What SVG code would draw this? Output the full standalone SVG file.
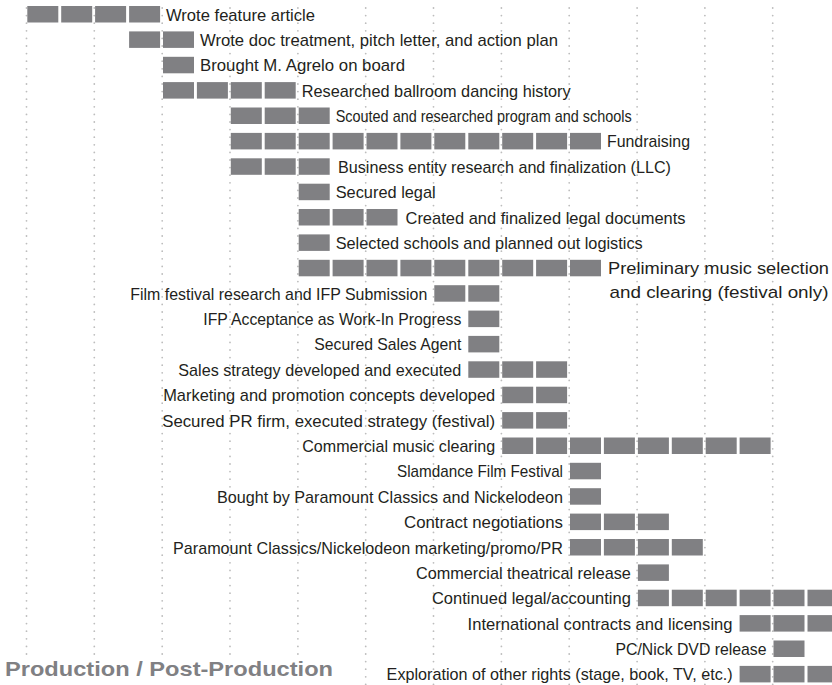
<svg xmlns="http://www.w3.org/2000/svg" width="832" height="685" viewBox="0 0 832 685">
<style>
.seg{fill:#808083}
.grid{stroke:#bdbdbd;stroke-width:1.8;stroke-linecap:round;stroke-dasharray:0 7.6;fill:none}
.t{font-family:"Liberation Sans",Arial,sans-serif;font-size:17px;fill:#231f20}
.r{text-anchor:end}
.title{font-family:"Liberation Sans",Arial,sans-serif;font-size:21px;font-weight:bold;fill:#808083}
</style>
<defs><rect id="s" class="seg" width="31" height="16.5"/></defs>
<rect width="832" height="685" fill="#fff"/>
<g id="gridlines">
<line class="grid" x1="26.5" y1="8" x2="26.5" y2="685"/>
<line class="grid" x1="94.3" y1="8" x2="94.3" y2="685"/>
<line class="grid" x1="162.2" y1="8" x2="162.2" y2="685"/>
<line class="grid" x1="230" y1="8" x2="230" y2="685"/>
<line class="grid" x1="297.9" y1="8" x2="297.9" y2="685"/>
<line class="grid" x1="365.7" y1="8" x2="365.7" y2="685"/>
<line class="grid" x1="433.5" y1="8" x2="433.5" y2="685"/>
<line class="grid" x1="501.4" y1="8" x2="501.4" y2="685"/>
<line class="grid" x1="569.2" y1="8" x2="569.2" y2="685"/>
<line class="grid" x1="637.1" y1="8" x2="637.1" y2="685"/>
<line class="grid" x1="704.9" y1="8" x2="704.9" y2="685"/>
<line class="grid" x1="772.7" y1="8" x2="772.7" y2="685"/>
</g>
<g id="r1"><use href="#s" x="27.3" y="6"/><use href="#s" x="61.2" y="6"/><use href="#s" x="95.1" y="6"/><use href="#s" x="129.1" y="6"/><text class="t" x="166" y="20.5" textLength="149" lengthAdjust="spacingAndGlyphs">Wrote feature article</text></g>
<g id="r2"><use href="#s" x="129.1" y="31.4"/><use href="#s" x="163" y="31.4"/><text class="t" x="200" y="45.9" textLength="358" lengthAdjust="spacingAndGlyphs">Wrote doc treatment, pitch letter, and action plan</text></g>
<g id="r3"><use href="#s" x="163" y="56.8"/><text class="t" x="200" y="71.3" textLength="205" lengthAdjust="spacingAndGlyphs">Brought M. Agrelo on board</text></g>
<g id="r4"><use href="#s" x="163" y="82.1"/><use href="#s" x="196.9" y="82.1"/><use href="#s" x="230.8" y="82.1"/><use href="#s" x="264.7" y="82.1"/><text class="t" x="301.7" y="96.6" textLength="269" lengthAdjust="spacingAndGlyphs">Researched ballroom dancing history</text></g>
<g id="r5"><use href="#s" x="230.8" y="107.5"/><use href="#s" x="264.7" y="107.5"/><use href="#s" x="298.7" y="107.5"/><text class="t" x="335.7" y="122" textLength="296" lengthAdjust="spacingAndGlyphs">Scouted and researched program and schools</text></g>
<g id="r6"><use href="#s" x="230.8" y="132.9"/><use href="#s" x="264.7" y="132.9"/><use href="#s" x="298.7" y="132.9"/><use href="#s" x="332.6" y="132.9"/><use href="#s" x="366.5" y="132.9"/><use href="#s" x="400.4" y="132.9"/><use href="#s" x="434.3" y="132.9"/><use href="#s" x="468.3" y="132.9"/><use href="#s" x="502.2" y="132.9"/><use href="#s" x="536.1" y="132.9"/><use href="#s" x="570" y="132.9"/><text class="t" x="607" y="147.4" textLength="83" lengthAdjust="spacingAndGlyphs">Fundraising</text></g>
<g id="r7"><use href="#s" x="230.8" y="158.3"/><use href="#s" x="264.7" y="158.3"/><use href="#s" x="298.7" y="158.3"/><text class="t" x="338" y="172.8" textLength="333" lengthAdjust="spacingAndGlyphs">Business entity research and finalization (LLC)</text></g>
<g id="r8"><use href="#s" x="298.7" y="183.7"/><text class="t" x="335.7" y="198.2" textLength="100" lengthAdjust="spacingAndGlyphs">Secured legal</text></g>
<g id="r9"><use href="#s" x="298.7" y="209"/><use href="#s" x="332.6" y="209"/><use href="#s" x="366.5" y="209"/><text class="t" x="405.5" y="223.5" textLength="280" lengthAdjust="spacingAndGlyphs">Created and finalized legal documents</text></g>
<g id="r10"><use href="#s" x="298.7" y="234.4"/><text class="t" x="335.7" y="248.9" textLength="307" lengthAdjust="spacingAndGlyphs">Selected schools and planned out logistics</text></g>
<g id="r11"><use href="#s" x="298.7" y="259.8"/><use href="#s" x="332.6" y="259.8"/><use href="#s" x="366.5" y="259.8"/><use href="#s" x="400.4" y="259.8"/><use href="#s" x="434.3" y="259.8"/><use href="#s" x="468.3" y="259.8"/><use href="#s" x="502.2" y="259.8"/><use href="#s" x="536.1" y="259.8"/><use href="#s" x="570" y="259.8"/><text class="t" x="608" y="274.3" textLength="221" lengthAdjust="spacingAndGlyphs">Preliminary music selection</text><text class="t" x="609.5" y="298" textLength="219" lengthAdjust="spacingAndGlyphs">and clearing (festival only)</text></g>
<g id="r12"><use href="#s" x="434.3" y="285.2"/><use href="#s" x="468.3" y="285.2"/><text class="t r" x="427.3" y="299.7" textLength="297" lengthAdjust="spacingAndGlyphs">Film festival research and IFP Submission</text></g>
<g id="r13"><use href="#s" x="468.3" y="310.6"/><text class="t r" x="461.3" y="325.1" textLength="258" lengthAdjust="spacingAndGlyphs">IFP Acceptance as Work-In Progress</text></g>
<g id="r14"><use href="#s" x="468.3" y="335.9"/><text class="t r" x="461.3" y="350.4" textLength="147" lengthAdjust="spacingAndGlyphs">Secured Sales Agent</text></g>
<g id="r15"><use href="#s" x="468.3" y="361.3"/><use href="#s" x="502.2" y="361.3"/><use href="#s" x="536.1" y="361.3"/><text class="t r" x="461.3" y="375.8" textLength="283" lengthAdjust="spacingAndGlyphs">Sales strategy developed and executed</text></g>
<g id="r16"><use href="#s" x="502.2" y="386.7"/><use href="#s" x="536.1" y="386.7"/><text class="t r" x="495.2" y="401.2" textLength="332" lengthAdjust="spacingAndGlyphs">Marketing and promotion concepts developed</text></g>
<g id="r17"><use href="#s" x="502.2" y="412.1"/><use href="#s" x="536.1" y="412.1"/><text class="t r" x="495.2" y="426.6" textLength="333" lengthAdjust="spacingAndGlyphs">Secured PR firm, executed strategy (festival)</text></g>
<g id="r18"><use href="#s" x="502.2" y="437.5"/><use href="#s" x="536.1" y="437.5"/><use href="#s" x="570" y="437.5"/><use href="#s" x="603.9" y="437.5"/><use href="#s" x="637.9" y="437.5"/><use href="#s" x="671.8" y="437.5"/><use href="#s" x="705.7" y="437.5"/><use href="#s" x="739.6" y="437.5"/><text class="t r" x="495.2" y="452" textLength="193" lengthAdjust="spacingAndGlyphs">Commercial music clearing</text></g>
<g id="r19"><use href="#s" x="570" y="462.8"/><text class="t r" x="563" y="477.3" textLength="166" lengthAdjust="spacingAndGlyphs">Slamdance Film Festival</text></g>
<g id="r20"><use href="#s" x="570" y="488.2"/><text class="t r" x="563" y="502.7" textLength="346" lengthAdjust="spacingAndGlyphs">Bought by Paramount Classics and Nickelodeon</text></g>
<g id="r21"><use href="#s" x="570" y="513.6"/><use href="#s" x="603.9" y="513.6"/><use href="#s" x="637.9" y="513.6"/><text class="t r" x="563" y="528.1" textLength="159" lengthAdjust="spacingAndGlyphs">Contract negotiations</text></g>
<g id="r22"><use href="#s" x="570" y="539"/><use href="#s" x="603.9" y="539"/><use href="#s" x="637.9" y="539"/><use href="#s" x="671.8" y="539"/><text class="t r" x="563" y="553.5" textLength="390" lengthAdjust="spacingAndGlyphs">Paramount Classics/Nickelodeon marketing/promo/PR</text></g>
<g id="r23"><use href="#s" x="637.9" y="564.4"/><text class="t r" x="630.9" y="578.9" textLength="215" lengthAdjust="spacingAndGlyphs">Commercial theatrical release</text></g>
<g id="r24"><use href="#s" x="637.9" y="589.7"/><use href="#s" x="671.8" y="589.7"/><use href="#s" x="705.7" y="589.7"/><use href="#s" x="739.6" y="589.7"/><use href="#s" x="773.5" y="589.7"/><use href="#s" x="807.5" y="589.7"/><text class="t r" x="630.9" y="604.2" textLength="199" lengthAdjust="spacingAndGlyphs">Continued legal/accounting</text></g>
<g id="r25"><use href="#s" x="739.6" y="615.1"/><use href="#s" x="773.5" y="615.1"/><use href="#s" x="807.5" y="615.1"/><text class="t r" x="732.6" y="629.6" textLength="265" lengthAdjust="spacingAndGlyphs">International contracts and licensing</text></g>
<g id="r26"><use href="#s" x="773.5" y="640.5"/><text class="t r" x="766.5" y="655" textLength="151" lengthAdjust="spacingAndGlyphs">PC/Nick DVD release</text></g>
<g id="r27"><use href="#s" x="739.6" y="665.9"/><use href="#s" x="773.5" y="665.9"/><use href="#s" x="807.5" y="665.9"/><text class="t r" x="732.6" y="680.4" textLength="346" lengthAdjust="spacingAndGlyphs">Exploration of other rights (stage, book, TV, etc.)</text></g>
<g id="label"><rect x="0" y="657" width="340" height="28" fill="#fff"/><text class="title" x="5" y="676" textLength="328" lengthAdjust="spacingAndGlyphs">Production / Post-Production</text></g>
</svg>
